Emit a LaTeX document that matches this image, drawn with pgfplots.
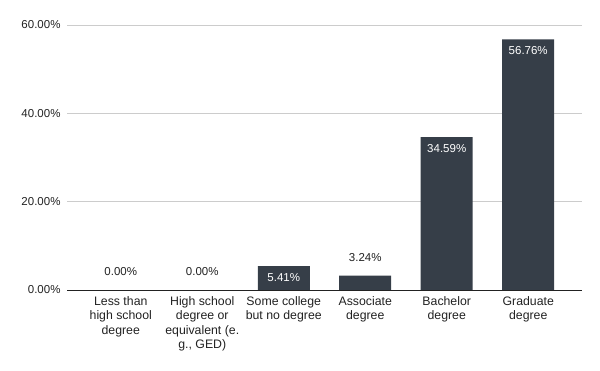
\documentclass[border=0pt]{standalone}
\usepackage{fontspec}
\setmainfont{Liberation Sans}
\usepackage{pgfplots}
\pgfplotsset{compat=1.18}
\definecolor{barc}{RGB}{54,62,72}
\definecolor{gridc}{RGB}{204,204,204}
\definecolor{txt}{RGB}{34,34,34}
\begin{document}
\begin{tikzpicture}
\path (0,0) rectangle (600bp,371bp);
\begin{axis}[
  at={(67bp,81bp)}, anchor=south west,
  scale only axis, width=515bp, height=265bp,
  xmin=-0.66, xmax=5.66, ymin=0, ymax=60,
  ytick={0,20,40,60},
  yticklabels={0.00\%,20.00\%,40.00\%,60.00\%},
  xtick={0,1,2,3,4,5},
  xticklabels={{Less than\\high school\\degree},{High school\\degree or\\equivalent (e.\\g., GED)},{Some college\\but no degree},{Associate\\degree},{Bachelor\\degree},{Graduate\\degree}},
  axis line style={draw=none},
  tick style={draw=none},
  ymajorgrids,
  major grid style={gridc, line width=0.8bp},
  /pgf/number format/assume math mode=true,
  yticklabel style={font=\fontsize{11.5bp}{14bp}\selectfont, text=txt, xshift=-3bp},
  xticklabel style={font=\fontsize{12.3bp}{14.5bp}\selectfont, text=txt, align=center, yshift=-3bp},
  clip=false,
]
\addplot[ybar, bar width=52bp, bar shift=0pt, fill=barc, draw=none,
  nodes near coords, point meta=explicit symbolic,
  every node near coord/.append style={anchor=south, text=txt, font=\fontsize{11.5bp}{14bp}\selectfont, yshift=11bp}]
  coordinates {(0,0) [0.00\%] (1,0) [0.00\%] (3,3.24) [3.24\%]};
\addplot[ybar, bar width=52bp, bar shift=0pt, fill=barc, draw=none,
  nodes near coords, point meta=explicit symbolic,
  every node near coord/.append style={anchor=north, text=white, font=\fontsize{11.5bp}{14bp}\selectfont, yshift=-4bp}]
  coordinates {(2,5.41) [5.41\%] (4,34.59) [34.59\%] (5,56.76) [56.76\%]};
\draw[txt, line width=0.9bp] (axis cs:-0.66,0) -- (axis cs:5.66,0);
\end{axis}
\end{tikzpicture}
\end{document}
